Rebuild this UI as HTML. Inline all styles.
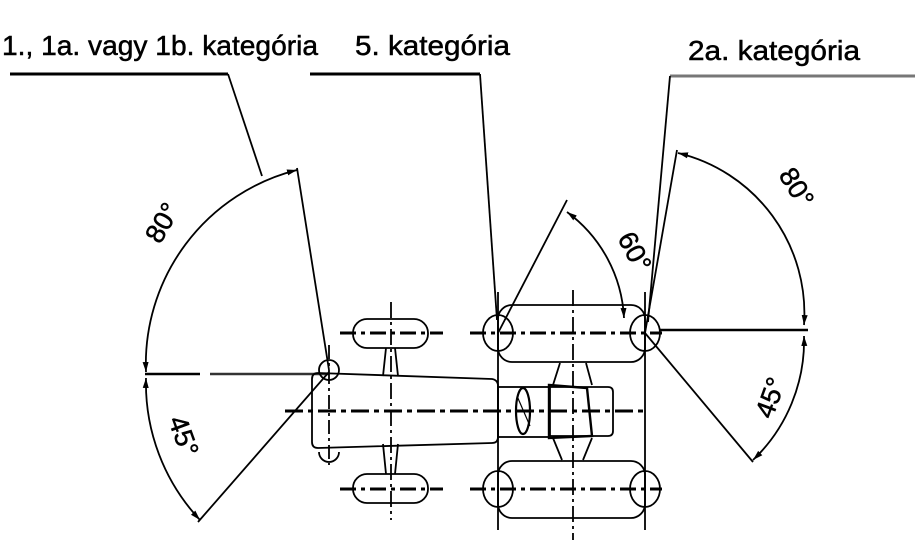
<!DOCTYPE html>
<html><head><meta charset="utf-8"><style>
html,body{margin:0;padding:0;background:#fff;}
svg{display:block;}
text{font-family:"Liberation Sans",sans-serif;fill:#000;stroke:#000;stroke-width:0.5;}
</style></head><body>
<svg width="918" height="551" viewBox="0 0 918 551" xmlns="http://www.w3.org/2000/svg">
<defs>
<marker id="a" viewBox="0 0 10 10" refX="10" refY="5" markerWidth="10" markerHeight="10" orient="auto-start-reverse" markerUnits="userSpaceOnUse"><path d="M0,2 L10,5 L0,8 z" fill="#000"/></marker>
</defs>
<g font-size="28">
<text x="2" y="55" textLength="316" lengthAdjust="spacingAndGlyphs">1., 1a. vagy 1b. kategória</text>
<text x="355" y="55" textLength="155" lengthAdjust="spacingAndGlyphs">5. kategória</text>
<text x="688" y="60" textLength="172" lengthAdjust="spacingAndGlyphs">2a. kategória</text>
</g>
<g stroke="#000" fill="none" stroke-width="1.8">
<line x1="10" y1="74" x2="228" y2="74" stroke-width="3"/>
<line x1="228" y1="74" x2="262" y2="176"/>
<line x1="310" y1="74" x2="480" y2="74" stroke-width="3"/>
<line x1="480" y1="74" x2="497" y2="320"/>
<line x1="670" y1="76" x2="915" y2="76" stroke-width="3" stroke="#777"/>
<line x1="670" y1="76" x2="648" y2="322"/>
<line x1="329" y1="370" x2="297" y2="168"/>
<line x1="145" y1="374" x2="200" y2="374" stroke-width="2.4"/>
<line x1="210" y1="374" x2="329" y2="374" stroke-width="2.4" stroke="#333"/>
<line x1="329" y1="372" x2="198" y2="522"/>
<path d="M297,170 A200,200 0 0 0 146,372" marker-start="url(#a)" marker-end="url(#a)"/>
<path d="M146,378 A200,200 0 0 0 200,520" marker-start="url(#a)" marker-end="url(#a)"/>
<line x1="498" y1="333" x2="567" y2="200"/>
<path d="M567,212 A140,140 0 0 1 624,318" marker-start="url(#a)" marker-end="url(#a)"/>
<line x1="645" y1="333" x2="677" y2="150"/>
<line x1="660" y1="330" x2="808" y2="330" stroke-width="2.4"/>
<line x1="645" y1="333" x2="753" y2="462"/>
<path d="M678,153 A165,165 0 0 1 804,325" marker-start="url(#a)" marker-end="url(#a)"/>
<path d="M804,336 A165,165 0 0 1 753,460" marker-start="url(#a)" marker-end="url(#a)"/>
<path d="M318,373 L492,379 Q498,380 498,386 L498,437 Q498,443 492,443 L318,448 Q312,448 312,442 L312,379 Q312,373 318,373 z"/>
<circle cx="329" cy="370" r="10"/>
<path d="M319,452 A10,10 0 0 0 339,452"/>
<line x1="329" y1="345" x2="329" y2="465" stroke-dasharray="14,4,3,4"/>
<rect x="353" y="319" width="75" height="29" rx="14"/>
<rect x="353" y="474" width="75" height="29" rx="14"/>
<path d="M386,348 L383,376 M395,348 L398,376 M386,474 L383,444 M395,474 L398,444"/>
<line x1="391" y1="302" x2="391" y2="520" stroke-dasharray="16,4,3,4"/>
<line x1="340" y1="333" x2="443" y2="333" stroke-width="3" stroke-dasharray="16,5,4,5"/>
<line x1="340" y1="489" x2="443" y2="489" stroke-width="3" stroke-dasharray="16,5,4,5"/>
<rect x="498" y="387" width="52" height="50"/>
<ellipse cx="523" cy="411" rx="7" ry="23" stroke-width="2.2"/>
<line x1="517" y1="396" x2="530" y2="426" stroke-width="1.2"/>
<path d="M549,385 L587,388 L592,436 L549,438 z" stroke-width="2.4"/>
<path d="M549,387 L608,387 Q613,387 613,392 L613,431 Q613,436 608,436 L549,436"/>
<path d="M560,363 L553,385 M586,363 L592,385 M553,438 L562,460 M592,438 L583,460"/>
<rect x="498" y="305" width="147" height="57" rx="14"/>
<rect x="498" y="461" width="147" height="57" rx="14"/>
<ellipse cx="498" cy="333" rx="15" ry="18"/>
<ellipse cx="645" cy="333" rx="15" ry="18"/>
<ellipse cx="498" cy="489" rx="15" ry="18"/>
<ellipse cx="645" cy="489" rx="15" ry="18"/>
<line x1="498" y1="292" x2="498" y2="530"/>
<line x1="645" y1="292" x2="645" y2="530"/>
<line x1="573" y1="290" x2="573" y2="540" stroke-dasharray="16,4,3,4"/>
<line x1="470" y1="333" x2="662" y2="333" stroke-width="3" stroke-dasharray="16,5,4,5"/>
<line x1="470" y1="489" x2="662" y2="489" stroke-width="3" stroke-dasharray="16,5,4,5"/>
<line x1="285" y1="411" x2="643" y2="411" stroke-width="3" stroke-dasharray="18,5,5,5"/>
</g>
<g font-size="27">
<text transform="translate(160,245) rotate(-60)">80°</text>
<text transform="translate(168,420) rotate(70)">45°</text>
<text transform="translate(617,238) rotate(62)">60°</text>
<text transform="translate(778,175) rotate(58)">80°</text>
<text transform="translate(772,420) rotate(-70)">45°</text>
</g>
</svg>
</body></html>
